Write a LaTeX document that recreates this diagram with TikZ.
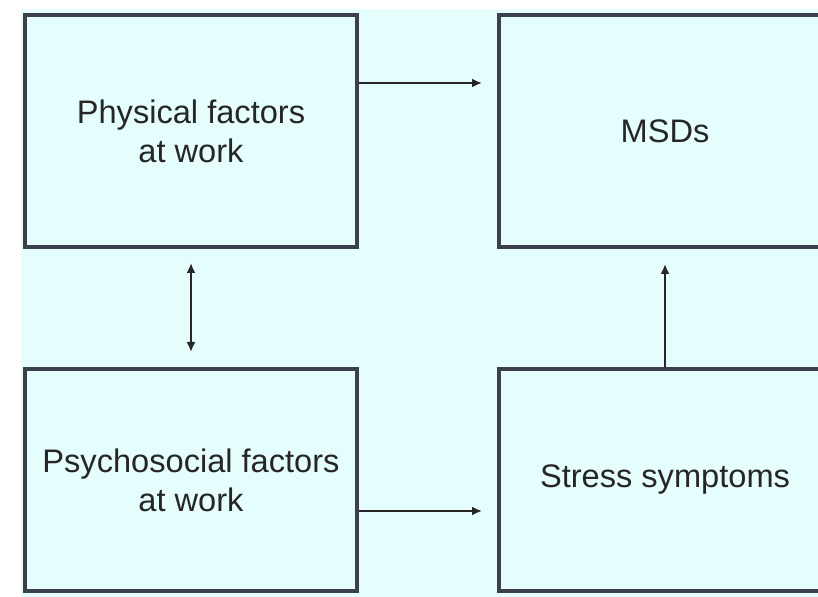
\documentclass[tikz,border=0pt]{standalone}
\usepackage{fontspec}
\setmainfont{Liberation Sans}
\usetikzlibrary{arrows.meta,calc}
\definecolor{bgcyan}{HTML}{E6FDFD}
\definecolor{boxline}{HTML}{3B404C}
\begin{document}
\begin{tikzpicture}[x=0.5pt,y=-0.5pt,>={Latex[length=5pt,width=4.5pt]},every node/.style={font=\fontsize{16.3}{19.5}\selectfont,text=black!85}]
\tikzstyle{factor} = [draw=boxline,line width=2pt,fill=bgcyan,minimum width=166pt,align=center,inner sep=0pt]
\tikzstyle{link} = [line width=1pt,black!85]

\useasboundingbox (0,0) rectangle (818,597);
\clip (0,0) rectangle (818,597);
\fill[white] (0,0) rectangle (818,597);
\fill[bgcyan] (21,9) rectangle (818,597);

\node [factor,minimum height=116pt] (v1) at (191,131) {Physical factors\\at work};
\node [factor,minimum height=116pt] (v2) at (665,131) {MSDs};
\node [factor,minimum height=111pt] (v3) at (191,480) {Psychosocial factors\\at work};
\node [factor,minimum height=111pt] (v4) at (665,480) {Stress symptoms};

\draw [link,->,shorten >=7.5pt] ($(v1.north east)+(0,70)$) -- ($(v2.north west)+(0,70)$);
\draw [link,<->,shorten <=7pt,shorten >=7.5pt] (v1.south) -- (v3.north);
\draw [link,->,shorten >=7.5pt] ($(v3.north east)+(0,144)$) -- ($(v4.north west)+(0,144)$);
\draw [link,->,shorten >=7.5pt] (v4.north) -- (v2.south);
\end{tikzpicture}
\end{document}
